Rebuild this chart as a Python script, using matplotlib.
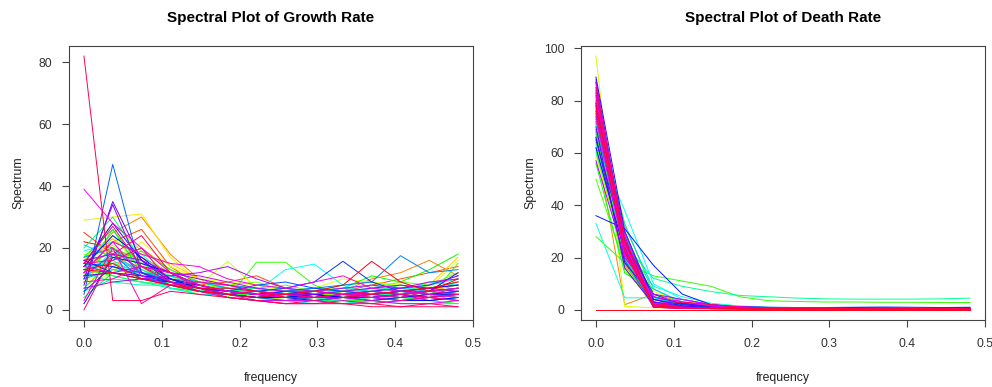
import numpy as np
import matplotlib
matplotlib.use("Agg")
from matplotlib import pyplot as plt
from matplotlib.colors import hsv_to_rgb

plt.rcParams['font.family'] = ['Liberation Sans', 'DejaVu Sans']

freq = [0.0, 0.037, 0.074, 0.111, 0.148, 0.185, 0.222, 0.259, 0.296, 0.333, 0.370, 0.407, 0.444, 0.481]

# spectrum of growth rate, one row per series (drawn in this order)
growth = [
    [22, 20, 14, 10, 7, 6, 5, 4, 5, 6, 5, 6, 7, 8],
    [14, 19, 13, 9, 7, 6, 6, 5, 5, 4, 5, 6, 5, 7],
    [25, 18, 12, 9, 8, 6, 4, 3, 4, 5, 6, 5, 4, 6],
    [15, 22, 26, 14, 8, 9, 11, 7, 5, 6, 8, 10, 12, 14],
    [11, 15, 17, 12, 8, 5, 4, 4, 5, 6, 6, 5, 4, 3],
    [14, 25, 30, 18, 10, 7, 6, 5, 4, 6, 10, 12, 16, 11],
    [12, 16, 20, 13, 9, 6, 5, 6, 7, 5, 4, 6, 7, 9],
    [16, 23, 15, 10, 8, 7, 5, 4, 3, 3, 4, 5, 6, 8],
    [10, 14, 18, 15, 10, 8, 7, 5, 4, 3, 4, 5, 8, 17],
    [29, 30, 31, 17, 9, 6, 4, 5, 6, 4, 3, 4, 6, 7],
    [9, 13, 11, 10, 9, 8, 6, 6, 7, 7, 6, 5, 6, 9],
    [8, 12, 22, 14, 10, 9, 8, 6, 7, 10, 9, 8, 7, 16],
    [11, 24, 13, 9, 8, 15.7, 7, 5, 4, 6, 5, 7, 9, 10],
    [13, 21, 14, 8, 5, 4, 4, 3, 4, 5, 4, 4, 5, 6],
    [16, 28, 19, 11, 6, 4, 3, 4, 5, 3, 2, 3, 4, 5],
    [9, 18, 15, 10, 7, 8, 9, 6, 5, 5, 7, 8, 6, 4],
    [18, 14, 10, 9, 7, 6, 7, 8, 6, 5, 7, 9, 8, 12],
    [13, 11, 9, 8, 7, 6, 5, 6, 6, 8, 9, 7, 5, 3],
    [12, 20, 16, 9, 6, 4, 15.4, 15.4, 8, 5, 4, 3, 4, 15],
    [7, 16, 19, 13, 9, 7, 5, 4, 4, 3, 3, 4, 4, 5],
    [17, 26, 14, 8, 6, 7, 5, 4, 6, 7, 11, 9, 13, 18],
    [4, 12, 10, 9, 8, 6, 6, 5, 3, 2, 3, 4, 3, 2],
    [12, 26, 12, 7, 6, 5, 5, 6, 5, 4, 5, 5, 6, 7],
    [14, 15, 12, 10, 7, 5, 4, 3, 3, 4, 5, 6, 5, 6],
    [20, 30, 16, 7, 5, 5, 6, 7, 6, 5, 6, 8, 7, 9],
    [15, 11, 9, 7, 6, 5, 4, 4, 3, 3, 2, 3, 3, 4],
    [6, 10, 9, 8, 6, 7, 7, 6, 5, 6, 5, 4, 6, 7],
    [12, 9, 8, 8, 9, 7, 5, 4, 5, 6, 7, 6, 8, 10],
    [10, 19, 15, 11, 8, 6, 5, 5, 6, 7, 8, 6, 5, 6],
    [19, 22, 18, 10, 6, 5, 4, 5, 4, 3, 4, 6, 5, 4],
    [13, 16, 11, 7, 5, 5, 6, 13, 14.8, 8, 5, 6, 9, 8],
    [13, 17, 13, 9, 6, 4, 3, 3, 2, 2, 3, 2, 2, 2],
    [21, 17, 12, 9, 7, 6, 5, 5, 6, 7, 6, 7, 6, 5],
    [10, 13, 12, 11, 9, 7, 6, 5, 4, 5, 6, 5, 6, 7],
    [17, 20, 12, 10, 9, 8, 7, 6, 7, 6, 5, 6, 7, 8],
    [11, 18, 10, 8, 6, 5, 4, 6, 7, 8, 9, 17.5, 12, 13],
    [5, 47, 12, 8, 6, 5, 4, 3, 4, 5, 4, 5, 3, 4],
    [6, 14, 12, 9, 7, 6, 8, 9, 7, 6, 5, 4, 5, 6],
    [15, 14, 11, 9, 6, 5, 6, 7, 9, 15.7, 9, 6, 5, 6],
    [16, 12, 10, 9, 8, 6, 5, 4, 5, 4, 3, 4, 5, 5],
    [14, 24, 17, 10, 7, 5, 4, 4, 5, 4, 4, 3, 3, 4],
    [2, 17, 15, 12, 8, 6, 5, 6, 5, 4, 5, 6, 7, 8],
    [15, 28, 16, 10, 7, 6, 5, 4, 3, 4, 4, 5, 6, 12],
    [11, 12, 11, 10, 8, 6, 5, 5, 4, 4, 4, 5, 4, 5],
    [8, 35, 16, 9, 7, 5, 4, 5, 6, 5, 6, 7, 8, 11],
    [10, 34, 12, 9, 7, 6, 5, 5, 4, 5, 5, 6, 6, 7],
    [16, 18, 16, 12, 10, 8, 6, 5, 5, 6, 7, 8, 7, 6],
    [7, 9, 10, 11, 12, 14, 10, 7, 6, 5, 6, 5, 4, 5],
    [14, 12, 14, 12, 11, 9, 7, 6, 6, 7, 8, 7, 9, 10],
    [12, 22, 11, 8, 6, 4, 3, 3, 3, 4, 3, 2, 2, 3],
    [39, 28, 20, 12, 8, 6, 5, 4, 4, 5, 4, 3, 4, 3],
    [12, 22, 18, 15, 14, 10, 8, 7, 9, 11, 7, 6, 5, 4],
    [9, 10, 14, 12, 8, 6, 5, 5, 6, 5, 4, 5, 6, 7],
    [3, 20, 2, 8, 9, 8, 6, 5, 4, 5, 5, 4, 6, 5],
    [15, 16, 20, 9, 7, 5, 3, 2, 2, 3, 2, 3, 4, 3],
    [15, 27, 14, 9, 6, 5, 6, 5, 4, 5, 6, 5, 4, 5],
    [0, 18, 24, 12, 7, 4, 3, 2, 3, 2, 2, 1, 2, 1],
    [82, 3, 3, 6, 5, 4, 3, 2, 2, 2, 1, 1, 1, 1],
    [13, 15, 10, 8, 7, 7, 6, 4, 4, 4, 5, 6, 7, 9],
    [13, 12, 10, 8, 6, 5, 4, 5, 6, 8, 15.7, 9, 6, 10],
]

# spectrum of death rate, one row per series (drawn in this order)
death = [
    [72, 22, 1.5, 0.8, 0.6, 0.5, 0.4, 0.4, 0.3, 0.3, 0.3, 0.3, 0.3, 0.3],
    [68, 23, 2, 1, 0.6, 0.5, 0.4, 0.4, 0.3, 0.3, 0.3, 0.3, 0.3, 0.3],
    [80, 18, 1.2, 0.9, 0.7, 0.5, 0.5, 0.4, 0.4, 0.3, 0.3, 0.3, 0.3, 0.2],
    [66, 25, 4, 2, 1.2, 0.9, 0.7, 0.6, 0.5, 0.5, 0.4, 0.4, 0.4, 0.3],
    [78, 17, 3, 1.5, 0.9, 0.7, 0.6, 0.5, 0.5, 0.4, 0.4, 0.4, 0.4, 0.4],
    [64, 2, 6, 3, 1.5, 1, 0.8, 0.6, 0.5, 0.5, 0.4, 0.4, 0.3, 0.3],
    [76, 20, 1, 3, 2, 1.2, 0.8, 0.6, 0.5, 0.4, 0.4, 0.4, 0.3, 0.3],
    [73, 28, 4, 1.2, 0.8, 0.6, 0.5, 0.5, 0.4, 0.4, 0.4, 0.3, 0.3, 0.3],
    [69, 16, 2, 1, 0.8, 0.6, 0.5, 0.5, 0.4, 0.4, 0.3, 0.3, 0.3, 0.3],
    [84, 24, 1.5, 0.7, 0.5, 0.4, 0.4, 0.3, 0.3, 0.3, 0.3, 0.2, 0.2, 0.2],
    [59, 21, 7, 3, 1.5, 1, 0.8, 0.7, 0.6, 0.6, 0.5, 0.5, 0.5, 0.5],
    [58, 30, 5, 2, 1, 0.8, 0.6, 0.5, 0.5, 0.4, 0.4, 0.4, 0.4, 0.4],
    [97, 1.3, 0.8, 0.6, 0.5, 0.5, 0.4, 0.4, 0.4, 0.3, 0.3, 0.3, 0.3, 0.3],
    [83, 25, 1.5, 0.8, 0.5, 0.4, 0.4, 0.3, 0.3, 0.3, 0.3, 0.3, 0.3, 0.3],
    [74, 21, 3, 1, 0.6, 0.5, 0.5, 0.4, 0.4, 0.4, 0.3, 0.3, 0.3, 0.3],
    [61, 19, 5, 2, 1.5, 1, 0.8, 0.7, 0.6, 0.6, 0.5, 0.5, 0.5, 0.5],
    [65, 15, 3, 2, 1.2, 0.9, 0.7, 0.6, 0.5, 0.5, 0.5, 0.4, 0.4, 0.4],
    [50, 17, 4, 2.5, 1.5, 1, 0.9, 0.8, 0.7, 0.6, 0.6, 0.5, 0.6, 0.7],
    [28, 18, 13, 11, 9, 5, 3.5, 3.2, 3, 3, 2.9, 2.9, 2.8, 2.8],
    [76, 33, 6, 2, 1, 0.7, 0.6, 0.5, 0.5, 0.4, 0.4, 0.4, 0.4, 0.4],
    [78, 23, 2, 1, 0.7, 0.5, 0.4, 0.4, 0.3, 0.3, 0.3, 0.3, 0.3, 0.3],
    [56, 14, 8, 2.5, 1.2, 0.9, 0.8, 0.7, 0.6, 0.6, 0.5, 0.5, 0.5, 0.5],
    [71, 20, 1.2, 0.7, 0.5, 0.4, 0.4, 0.3, 0.3, 0.3, 0.3, 0.3, 0.3, 0.3],
    [67, 27, 3, 2, 1, 0.8, 0.7, 0.6, 0.5, 0.5, 0.4, 0.4, 0.4, 0.4],
    [82, 20, 1, 0.7, 0.5, 0.4, 0.4, 0.3, 0.3, 0.3, 0.3, 0.3, 0.2, 0.2],
    [85, 27, 2.5, 1, 0.6, 0.5, 0.4, 0.4, 0.4, 0.3, 0.3, 0.3, 0.3, 0.3],
    [60, 25, 12, 9, 7, 5.5, 5, 4.5, 4.2, 4.1, 4.1, 4.1, 4.2, 4.5],
    [71, 26, 3, 1.5, 0.9, 0.7, 0.6, 0.5, 0.5, 0.4, 0.4, 0.4, 0.4, 0.4],
    [62, 24, 9, 5, 2.5, 1.5, 1, 0.8, 0.7, 0.6, 0.6, 0.5, 0.5, 0.5],
    [33, 4.6, 4.6, 2.5, 1.5, 1, 0.8, 0.7, 0.6, 0.6, 0.5, 0.5, 0.5, 0.5],
    [63, 38, 10, 4, 2, 1.2, 0.9, 0.8, 0.7, 0.6, 0.6, 0.6, 0.5, 0.5],
    [80, 19, 2, 1, 0.7, 0.5, 0.4, 0.4, 0.4, 0.3, 0.3, 0.3, 0.3, 0.3],
    [75, 32, 8, 3, 1.5, 1, 0.8, 0.7, 0.6, 0.6, 0.5, 0.5, 0.5, 0.5],
    [86, 28, 5, 1.5, 0.8, 0.6, 0.5, 0.5, 0.4, 0.4, 0.4, 0.4, 0.3, 0.3],
    [69, 29, 3, 1.5, 0.9, 0.7, 0.6, 0.5, 0.5, 0.5, 0.4, 0.4, 0.4, 0.4],
    [79, 24, 2, 0.6, 0.5, 0.4, 0.4, 0.3, 0.3, 0.3, 0.3, 0.3, 0.3, 0.3],
    [88, 19, 1.5, 0.8, 0.6, 0.5, 0.4, 0.4, 0.4, 0.3, 0.3, 0.3, 0.3, 0.3],
    [74, 22, 4, 2, 1.5, 1.2, 1, 0.9, 0.9, 1, 1.1, 1, 0.9, 1],
    [65, 26, 6, 2, 1, 0.8, 0.7, 0.6, 0.6, 0.5, 0.5, 0.5, 0.5, 0.5],
    [36, 31, 17, 6, 2, 1, 0.8, 0.6, 0.5, 0.5, 0.5, 0.5, 0.5, 0.5],
    [87, 26, 1.5, 0.8, 0.6, 0.5, 0.4, 0.4, 0.3, 0.3, 0.3, 0.3, 0.3, 0.3],
    [62, 22, 3, 1.2, 0.7, 0.6, 0.5, 0.4, 0.4, 0.4, 0.4, 0.3, 0.3, 0.3],
    [89, 30, 4, 1.5, 0.8, 0.6, 0.5, 0.5, 0.4, 0.4, 0.4, 0.3, 0.3, 0.3],
    [66, 18, 5, 2.5, 1.2, 0.8, 0.6, 0.5, 0.5, 0.4, 0.4, 0.4, 0.4, 0.4],
    [70, 16, 2, 2.5, 1.5, 1, 0.9, 0.8, 0.8, 0.9, 0.8, 0.7, 0.8, 0.9],
    [83, 24, 1, 0.6, 0.5, 0.4, 0.4, 0.3, 0.3, 0.3, 0.3, 0.3, 0.3, 0.3],
    [79, 30, 3, 1.2, 0.7, 0.5, 0.5, 0.4, 0.4, 0.4, 0.3, 0.3, 0.3, 0.3],
    [57, 20, 6, 4, 2, 1.2, 0.9, 0.8, 0.7, 0.6, 0.6, 0.6, 0.5, 0.5],
    [77, 28, 2, 1, 0.7, 0.5, 0.5, 0.4, 0.4, 0.4, 0.3, 0.3, 0.3, 0.3],
    [82, 21, 2, 4, 2, 1, 0.8, 0.7, 0.6, 0.5, 0.5, 0.5, 0.4, 0.4],
    [73, 21, 5, 3, 1.5, 1, 0.8, 0.7, 0.6, 0.5, 0.5, 0.5, 0.4, 0.4],
    [87, 25, 1.5, 0.8, 0.6, 0.5, 0.4, 0.4, 0.3, 0.3, 0.3, 0.3, 0.3, 0.3],
    [75, 25, 1, 0.6, 0.5, 0.4, 0.4, 0.3, 0.3, 0.3, 0.3, 0.3, 0.3, 0.3],
    [81, 27, 2.5, 1, 0.7, 0.6, 0.5, 0.4, 0.4, 0.4, 0.3, 0.3, 0.3, 0.3],
    [79, 23, 1.2, 0.6, 0.5, 0.4, 0.4, 0.3, 0.3, 0.3, 0.3, 0.3, 0.3, 0.3],
    [84, 23, 2, 1, 0.7, 0.6, 0.5, 0.4, 0.4, 0.4, 0.4, 0.3, 0.3, 0.3],
    [85, 26, 1, 0.5, 0.4, 0.4, 0.3, 0.3, 0.3, 0.3, 0.3, 0.2, 0.2, 0.2],
    [76, 22, 1.5, 3, 2, 1, 0.8, 0.7, 0.6, 0.5, 0.5, 0.5, 0.4, 0.4],
    [78, 27, 1.5, 0.9, 0.6, 0.5, 0.4, 0.4, 0.4, 0.3, 0.3, 0.3, 0.3, 0.3],
    [0, 0, 0, 0, 0, 0, 0, 0, 0, 0, 0, 0, 0, 0],
]


def rainbow(n):
    # same as R's rainbow(n)
    return [hsv_to_rgb((i / n, 1, 1)) for i in range(n)]


def r_lim(vals):
    lo, hi = min(vals), max(vals)
    pad = 0.04 * (hi - lo)
    return lo - pad, hi + pad


def spec_panel(ax, data, title, yticks):
    cols = rainbow(len(data))
    for i, row in enumerate(data):
        ax.plot(freq, row, color=cols[i], lw=0.7)
    allv = [v for row in data for v in row]
    ax.set_xlim(*r_lim(freq))
    ax.set_ylim(*r_lim(allv))
    ax.set_xticks([0.0, 0.1, 0.2, 0.3, 0.4, 0.5])
    ax.set_xticklabels(['0.0', '0.1', '0.2', '0.3', '0.4', '0.5'])
    ax.set_yticks(yticks)
    ax.set_yticklabels([str(t) for t in yticks])
    ax.tick_params(length=5, width=0.8, color='#444444', labelcolor='#333333',
                   labelsize=8.8)
    ax.tick_params(axis='x', pad=8)
    ax.tick_params(axis='y', pad=7)
    for s in ax.spines.values():
        s.set_color('#444444')
        s.set_linewidth(0.8)
    ax.set_title(title, fontsize=11, fontweight='bold', pad=17)
    ax.set_xlabel('frequency', fontsize=8.8, color='#222222')
    ax.set_ylabel('Spectrum', fontsize=8.8, color='#222222')
    ax.xaxis.set_label_coords(0.5, -0.19)
    ax.yaxis.set_label_coords(-0.11, 0.5)


fig = plt.figure(figsize=(9.92, 3.87), dpi=100)
ax1 = fig.add_axes([69 / 992, 67 / 387, 404 / 992, 274 / 387])
ax2 = fig.add_axes([581 / 992, 67 / 387, 404 / 992, 274 / 387])

spec_panel(ax1, growth, 'Spectral Plot of Growth Rate', [0, 20, 40, 60, 80])
spec_panel(ax2, death, 'Spectral Plot of Death Rate', [0, 20, 40, 60, 80, 100])

fig.savefig('out.png', dpi=100)
